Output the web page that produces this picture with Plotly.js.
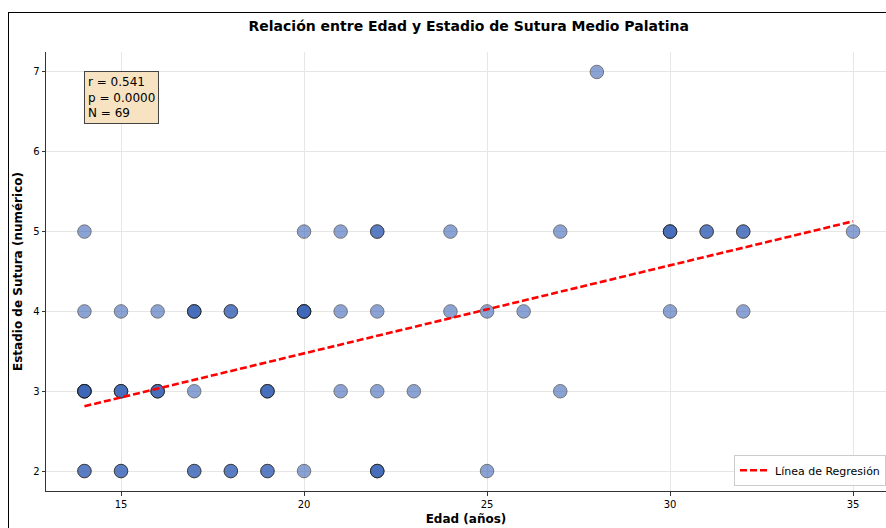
<!DOCTYPE html>
<html>
<head>
<meta charset="utf-8">
<script src="https://cdn.plot.ly/plotly-3.0.1.min.js"></script>
<style>
  html, body { margin: 0; padding: 0; background: #fff; }
  #chart { position: absolute; left: 0; top: 0; width: 886px; height: 528px; }
  #frame { position: absolute; left: 8px; top: 12px; width: 880px; height: 520px;
           border-left: 1px solid #000; border-top: 1px solid #000; pointer-events: none; }
</style>
</head>
<body>
<div id="chart"></div>
<div id="frame"></div>
<script>
// Data (repeated entries = overlapping points)
const edad = [
  28,
  14, 20, 21, 22, 22, 24, 27, 30, 30, 30, 31, 31, 32, 32, 35,
  14, 15, 16, 17, 17, 17, 18, 18, 20, 20, 20, 20, 21, 22, 24, 25, 26, 30, 32,
  14, 14, 14, 14, 14, 15, 15, 15, 16, 16, 16, 17, 19, 19, 19, 21, 22, 23, 27,
  14, 14, 15, 15, 17, 17, 18, 18, 19, 19, 20, 22, 22, 22, 25
];
const estadio = [
  7,
  5, 5, 5, 5, 5, 5, 5, 5, 5, 5, 5, 5, 5, 5, 5,
  4, 4, 4, 4, 4, 4, 4, 4, 4, 4, 4, 4, 4, 4, 4, 4, 4, 4, 4,
  3, 3, 3, 3, 3, 3, 3, 3, 3, 3, 3, 3, 3, 3, 3, 3, 3, 3, 3,
  2, 2, 2, 2, 2, 2, 2, 2, 2, 2, 2, 2, 2, 2, 2
];
const xTicks = [15, 20, 25, 30, 35];
const yTicks = [2, 3, 4, 5, 6, 7];
const statsText = ["r = 0.541", "p = 0.0000", "N = 69"];

// Least-squares regression from the data
const n = edad.length;
const mx = edad.reduce((a, b) => a + b, 0) / n;
const my = estadio.reduce((a, b) => a + b, 0) / n;
let sxy = 0, sxx = 0;
for (let i = 0; i < n; i++) { sxy += (edad[i] - mx) * (estadio[i] - my); sxx += (edad[i] - mx) ** 2; }
const slope = sxy / sxx, intercept = my - slope * mx;
const xr = [Math.min(...edad), Math.max(...edad)];
const yr = xr.map(v => intercept + slope * v);

const traces = [
  {
    x: edad, y: estadio, type: 'scatter', mode: 'markers', showlegend: false,
    marker: { size: 13.5, color: '#3d66b8', opacity: 0.6, line: { color: '#1b1b1b', width: 1 } },
    hoverinfo: 'x+y'
  },
  {
    x: xr, y: yr, type: 'scatter', mode: 'lines', name: 'Línea de Regresión',
    line: { color: '#ff0000', width: 2.6, dash: '7px,3px' }
  }
];

const font = 'DejaVu Sans, sans-serif';
const layout = {
  width: 886, height: 528,
  margin: { l: 46, r: 0, t: 52, b: 37 },
  paper_bgcolor: '#ffffff', plot_bgcolor: '#ffffff',
  font: { family: font, size: 10, color: '#000' },
  title: {
    text: '<b>Relación entre Edad y Estadio de Sutura Medio Palatina</b>',
    font: { family: font, size: 14, color: '#000' },
    x: 0.529, xanchor: 'center', y: 1 - 26 / 528, yanchor: 'middle', yref: 'container'
  },
  xaxis: {
    range: [12.95, 35.90], tickvals: xTicks, ticktext: xTicks.map(String),
    showgrid: true, gridcolor: '#e6e6e6', gridwidth: 1, zeroline: false,
    showline: true, linecolor: '#333', linewidth: 1,
    ticks: 'outside', ticklen: 3.5, tickcolor: '#333', tickwidth: 1,
    tickfont: { family: font, size: 10, color: '#000' },
    title: { text: '<b>Edad (años)</b>', font: { family: font, size: 12, color: '#000' }, standoff: 6 }
  },
  yaxis: {
    range: [1.75, 7.25], tickvals: yTicks, ticktext: yTicks.map(String),
    showgrid: true, gridcolor: '#e6e6e6', gridwidth: 1, zeroline: false,
    showline: true, linecolor: '#333', linewidth: 1,
    ticks: 'outside', ticklen: 3.5, tickcolor: '#333', tickwidth: 1,
    tickfont: { family: font, size: 10, color: '#000' },
    title: { text: '<b>Estadio de Sutura (numérico)</b>', font: { family: font, size: 12, color: '#000' }, standoff: 7 }
  },
  legend: {
    x: 1, xanchor: 'right', y: 0.012, yanchor: 'bottom',
    bgcolor: 'rgba(255,255,255,0.9)', bordercolor: '#cccccc', borderwidth: 1,
    font: { family: font, size: 11, color: '#000' }, tracegroupgap: 0
  },
  annotations: [{
    xref: 'paper', yref: 'paper', x: (84 - 46) / 840, y: 1 - (71 - 52) / 439,
    xanchor: 'left', yanchor: 'top', align: 'left', showarrow: false,
    text: statsText.join('<br>'),
    font: { family: font, size: 12, color: '#000' },
    bgcolor: '#f7e3c1', bordercolor: '#444', borderwidth: 1, borderpad: 3
  }]
};

Plotly.newPlot('chart', traces, layout, { displayModeBar: false, staticPlot: true });
</script>
</body>
</html>
